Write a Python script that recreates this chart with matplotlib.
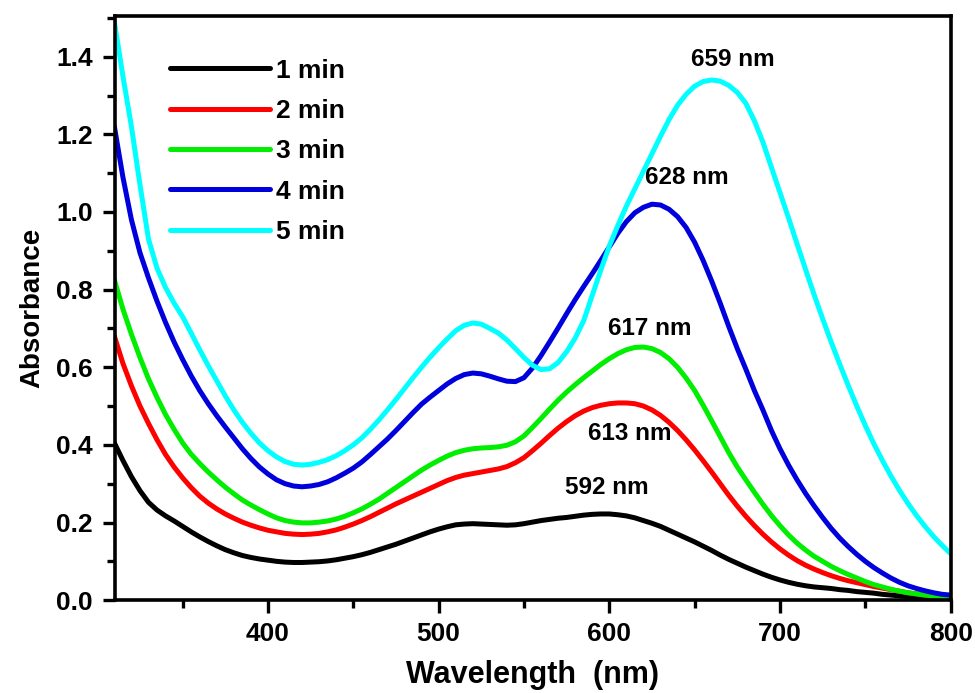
import matplotlib
matplotlib.use("Agg")
import matplotlib.pyplot as plt
from matplotlib.ticker import MultipleLocator

plt.rcParams["font.family"] = ["Liberation Sans", "DejaVu Sans"]
plt.rcParams["font.weight"] = "bold"

wavelength = list(range(310, 801, 5))

abs_1min = [0.405, 0.36, 0.318, 0.282, 0.252, 0.232, 0.217, 0.204, 0.19, 0.176,
            0.163, 0.151, 0.14, 0.13, 0.122, 0.115, 0.11, 0.106, 0.103, 0.1,
            0.098, 0.097, 0.097, 0.098, 0.099, 0.101, 0.104, 0.108, 0.112, 0.117,
            0.123, 0.13, 0.137, 0.144, 0.152, 0.16, 0.168, 0.176, 0.183, 0.189,
            0.194, 0.196, 0.197, 0.196, 0.195, 0.194, 0.193, 0.194, 0.197, 0.201,
            0.205, 0.208, 0.211, 0.213, 0.216, 0.219, 0.221, 0.222, 0.222, 0.22,
            0.217, 0.212, 0.205, 0.198, 0.19, 0.18, 0.17, 0.16, 0.15, 0.139,
            0.128, 0.116, 0.105, 0.095, 0.085, 0.076, 0.067, 0.059, 0.052, 0.046,
            0.041, 0.037, 0.034, 0.032, 0.03, 0.027, 0.025, 0.022, 0.02, 0.018,
            0.015, 0.013, 0.011, 0.009, 0.007, 0.005, 0.003, 0.002, 0.001]

abs_2min = [0.68, 0.61, 0.552, 0.5, 0.455, 0.413, 0.375, 0.343, 0.315, 0.29,
            0.268, 0.25, 0.235, 0.222, 0.211, 0.201, 0.193, 0.186, 0.18, 0.176,
            0.172, 0.17, 0.169, 0.17, 0.172, 0.176, 0.181, 0.188, 0.196, 0.205,
            0.215, 0.226, 0.237, 0.248, 0.258, 0.268, 0.278, 0.288, 0.298, 0.308,
            0.316, 0.322, 0.326, 0.33, 0.334, 0.338, 0.344, 0.354, 0.367, 0.385,
            0.404, 0.424, 0.443, 0.46, 0.475, 0.487, 0.496, 0.502, 0.506, 0.508,
            0.508, 0.506, 0.5, 0.49, 0.476, 0.458, 0.437, 0.413, 0.387, 0.359,
            0.33, 0.3, 0.27, 0.242, 0.216, 0.192, 0.17, 0.15, 0.132, 0.116,
            0.102, 0.09, 0.08, 0.071, 0.063, 0.056, 0.05, 0.045, 0.04, 0.035,
            0.031, 0.027, 0.023, 0.019, 0.016, 0.013, 0.01, 0.008, 0.006]

abs_3min = [0.825, 0.75, 0.685, 0.625, 0.57, 0.522, 0.478, 0.44, 0.405, 0.376,
            0.352, 0.33, 0.31, 0.291, 0.274, 0.258, 0.245, 0.233, 0.222, 0.212,
            0.205, 0.201, 0.199, 0.199, 0.201, 0.204, 0.209, 0.216, 0.225, 0.235,
            0.247, 0.26, 0.275, 0.29, 0.305, 0.32, 0.335, 0.348, 0.36, 0.371,
            0.38, 0.386, 0.39, 0.392, 0.393, 0.395, 0.399, 0.408, 0.423, 0.445,
            0.468, 0.492, 0.515, 0.536, 0.555, 0.573, 0.59, 0.607, 0.622, 0.635,
            0.645, 0.651, 0.652, 0.648, 0.638, 0.622, 0.6, 0.572, 0.54, 0.502,
            0.462, 0.421, 0.38, 0.343, 0.31, 0.278, 0.247, 0.218, 0.192, 0.168,
            0.147, 0.129, 0.113, 0.1, 0.087, 0.076, 0.066, 0.057, 0.048, 0.04,
            0.034, 0.028, 0.023, 0.019, 0.016, 0.013, 0.011, 0.009, 0.008]

abs_4min = [1.22, 1.09, 0.98, 0.895, 0.83, 0.77, 0.715, 0.665, 0.62, 0.578,
            0.54, 0.506, 0.475, 0.446, 0.418, 0.39, 0.365, 0.343, 0.325, 0.31,
            0.3, 0.294, 0.292, 0.294, 0.298, 0.305, 0.315, 0.327, 0.34, 0.356,
            0.375, 0.395, 0.415, 0.437, 0.46, 0.483, 0.505, 0.523, 0.54, 0.557,
            0.571, 0.581, 0.585, 0.583, 0.577, 0.57, 0.564, 0.563, 0.573, 0.598,
            0.63, 0.665, 0.701, 0.738, 0.774, 0.808, 0.841, 0.875, 0.91, 0.945,
            0.975, 0.998, 1.012, 1.02, 1.018, 1.007, 0.988, 0.96, 0.922, 0.875,
            0.822, 0.765, 0.705, 0.648, 0.595, 0.54, 0.49, 0.437, 0.39, 0.348,
            0.31, 0.275, 0.243, 0.213, 0.185, 0.16, 0.138, 0.118, 0.1, 0.084,
            0.07, 0.057, 0.046, 0.037, 0.03, 0.024, 0.019, 0.015, 0.013]

abs_5min = [1.49, 1.35, 1.22, 1.07, 0.93, 0.855, 0.805, 0.765, 0.73, 0.688,
            0.645, 0.604, 0.565, 0.526, 0.49, 0.458, 0.43, 0.405, 0.385, 0.369,
            0.357, 0.35, 0.348, 0.35, 0.355, 0.362, 0.372, 0.385, 0.4, 0.418,
            0.44, 0.464, 0.49, 0.517, 0.545, 0.573, 0.6, 0.626, 0.65, 0.673,
            0.694, 0.708, 0.714, 0.711, 0.7, 0.688, 0.67, 0.648, 0.625, 0.605,
            0.594, 0.596, 0.612, 0.64, 0.675, 0.72, 0.785, 0.85, 0.912, 0.965,
            1.015, 1.06, 1.105, 1.15, 1.195, 1.238, 1.275, 1.303, 1.324, 1.336,
            1.34, 1.337, 1.326, 1.308, 1.28, 1.235, 1.18, 1.115, 1.05, 0.985,
            0.918, 0.852, 0.787, 0.725, 0.665, 0.608, 0.553, 0.5, 0.45, 0.403,
            0.36, 0.32, 0.283, 0.249, 0.218, 0.19, 0.164, 0.141, 0.12]

series_labels = ["1 min", "2 min", "3 min", "4 min", "5 min"]
series_colors = ["#000000", "#ff0000", "#00ee00", "#0000dd", "#00ffff"]

peak_labels = ["592 nm", "613 nm", "617 nm", "628 nm", "659 nm"]
peak_label_x = [598.6, 612, 623.8, 645.5, 672.4]
peak_label_y = [0.289, 0.43, 0.701, 1.088, 1.392]

all_series = [abs_1min, abs_2min, abs_3min, abs_4min, abs_5min]
for values in all_series:
    assert len(values) == len(wavelength)

fig = plt.figure(figsize=(9.75, 6.93), dpi=100)
ax = fig.add_axes([0.118, 0.134, 0.857, 0.843])

for values, label, color in zip(all_series, series_labels, series_colors):
    ax.plot(wavelength, values, color=color, lw=3.6, label=label,
            solid_capstyle="round", solid_joinstyle="round")

for text, x, y in zip(peak_labels, peak_label_x, peak_label_y):
    ax.text(x, y, text, ha="center", va="center", fontsize=17.5, fontweight="bold")

ax.set_xlim(310.4, 800)
ax.set_ylim(0, 1.505)
ax.xaxis.set_major_locator(MultipleLocator(100))
ax.xaxis.set_minor_locator(MultipleLocator(50))
ax.yaxis.set_major_locator(MultipleLocator(0.2))
ax.yaxis.set_minor_locator(MultipleLocator(0.1))
ax.yaxis.set_major_formatter(plt.FormatStrFormatter("%.1f"))

for side in ax.spines.values():
    side.set_linewidth(2.6)
ax.tick_params(which="major", direction="out", length=9, width=2.4,
               labelsize=19, pad=7)
ax.tick_params(which="minor", direction="out", length=6, width=2.4)
for lab in ax.get_xticklabels() + ax.get_yticklabels():
    lab.set_fontweight("bold")

ax.set_xlabel("Wavelength  (nm)", fontsize=22, fontweight="bold", labelpad=10)
ax.set_ylabel("Absorbance", fontsize=20, fontweight="bold", labelpad=8)

ax.legend(loc="upper left", bbox_to_anchor=(0.066, 0.927), frameon=False,
          prop={"size": 19, "weight": "bold"}, handlelength=3.8,
          handletextpad=0.2, labelspacing=0.62, borderpad=0, borderaxespad=0)

fig.savefig("out.png", dpi=100)
